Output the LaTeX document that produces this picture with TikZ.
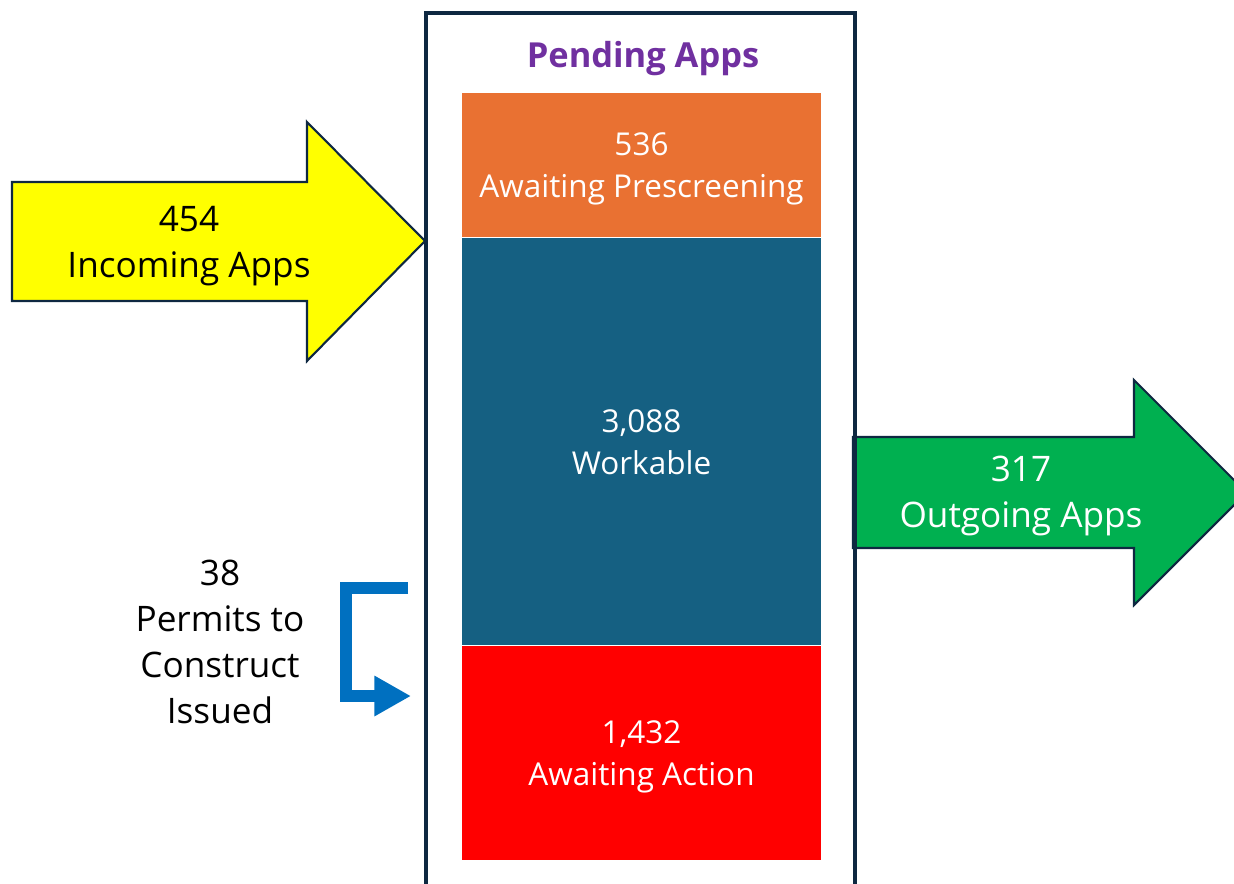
\documentclass[tikz,border=0pt]{standalone}
\usepackage{fontspec}
\setmainfont{Open Sans}
\usetikzlibrary{arrows.meta}
\definecolor{framenavy}{HTML}{0E2841}
\definecolor{prescreenorange}{HTML}{E97132}
\definecolor{workableblue}{HTML}{156082}
\definecolor{actionred}{HTML}{FF0000}
\definecolor{incomingyellow}{HTML}{FFFF00}
\definecolor{outgoinggreen}{HTML}{00B050}
\definecolor{permitblue}{HTML}{0070C0}
\definecolor{pendingpurple}{HTML}{7030A0}
\begin{document}
\begin{tikzpicture}[x=0.025cm, y=-0.025cm, every text node part/.style={align=center}]
  \tikzset{
    txt/.style={font=\fontsize{22.4}{30}\selectfont, inner sep=0pt, text depth=0pt},
    outtxt/.style={font=\fontsize{25}{32.7}\selectfont, inner sep=0pt, text depth=0pt},
    stackbox/.style={txt, text=white, minimum width=8.975cm, anchor=north},
    blockarrow/.style={draw=framenavy, line width=1.5pt, line join=miter},
  }
  \useasboundingbox (0,0) rectangle (1234,883);
  %
  \draw[blockarrow, fill=incomingyellow] (12,182) -- (307,182) -- (307,122) -- (425,241)
    -- (307,361) -- (307,301) -- (12,301) -- cycle;
  \draw[blockarrow, fill=outgoinggreen] (853,437) -- (1134,437) -- (1134,380) -- (1246.5,492.5)
    -- (1134,605) -- (1134,548) -- (853,548) -- cycle;
  \node[outtxt] (incoming) at (189,242) {454\\Incoming Apps};
  \node[outtxt, text=white] (outgoing) at (1021,492) {317\\Outgoing Apps};
  %
  \draw[framenavy, line width=2.2pt] (426,13) rectangle (855,900);
  \node[font=\fontsize{24.5}{28}\selectfont\bfseries, text=pendingpurple, inner sep=0pt] (pending) at (643,59) {Pending Apps};
  %
  \node[stackbox, fill=prescreenorange, minimum height=3.6cm] (prescreen) at (641.5,93) {536\\Awaiting Prescreening};
  \node[stackbox, fill=workableblue, minimum height=10.175cm] (workable) at (641.5,238) {3,088\\Workable};
  \node[stackbox, fill=actionred, minimum height=5.35cm] (action) at (641.5,646) {1,432\\Awaiting Action};
  %
  \node[outtxt] (permits) at (220,642) {38\\Permits to\\Construct\\Issued};
  \coordinate (bendstart) at (408,588);
  \coordinate (bendend) at (411,696);
  \draw[permitblue, line width=8.5pt, line join=miter, -{Triangle[length=26pt, width=27pt]}]
    (bendstart) -- (346,588) -- (346,696) -- (bendend);
\end{tikzpicture}
\end{document}
